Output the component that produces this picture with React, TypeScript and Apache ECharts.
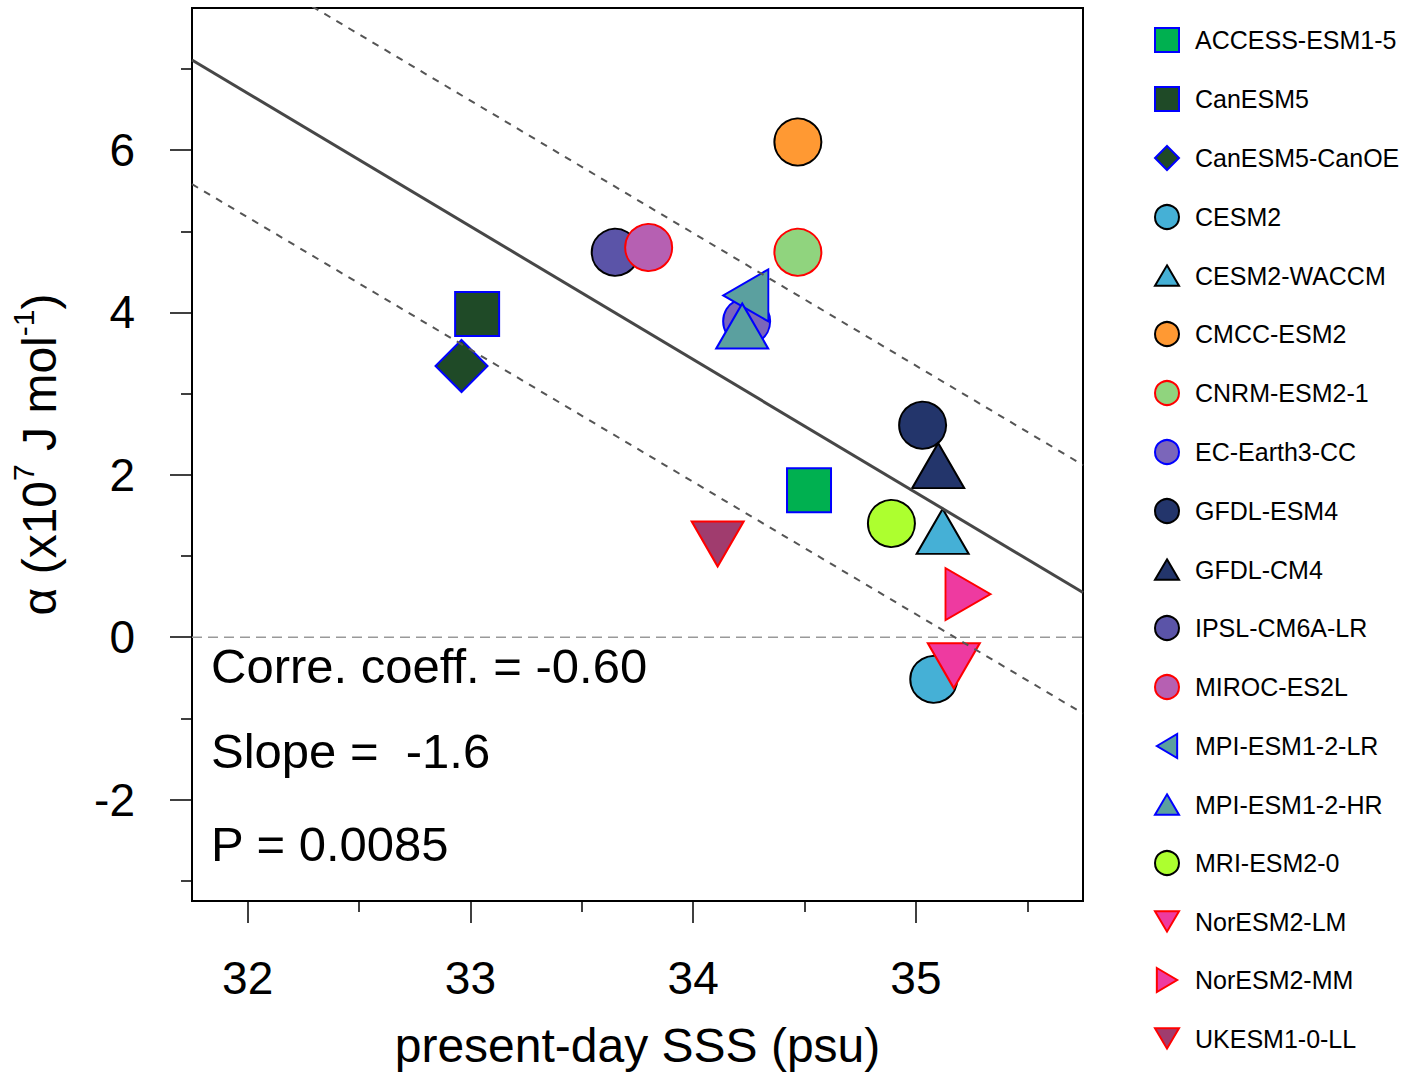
import React, { useEffect, useRef } from 'react';
import * as echarts from 'echarts';

const models = [
  'ACCESS-ESM1-5', 'CanESM5', 'CanESM5-CanOE', 'CESM2', 'CESM2-WACCM', 'CMCC-ESM2',
  'CNRM-ESM2-1', 'EC-Earth3-CC', 'GFDL-ESM4', 'GFDL-CM4', 'IPSL-CM6A-LR', 'MIROC-ES2L',
  'MPI-ESM1-2-LR', 'MPI-ESM1-2-HR', 'MRI-ESM2-0', 'NorESM2-LM', 'NorESM2-MM', 'UKESM1-0-LL',
];
const sss = [34.52, 33.03, 32.96, 35.08, 35.12, 34.47, 34.47, 34.24, 35.03, 35.10, 33.65, 33.80, 34.27, 34.22, 34.89, 35.17, 35.20, 34.11];
const alpha = [1.81, 3.98, 3.34, -0.52, 1.21, 6.10, 4.74, 3.89, 2.61, 2.02, 4.74, 4.80, 4.21, 3.74, 1.40, -0.26, 0.53, 1.24];
const shapes = [
  'square', 'square', 'diamond', 'circle', 'up', 'circle',
  'circle', 'circle', 'circle', 'up', 'circle', 'circle',
  'left', 'up', 'circle', 'down', 'right', 'down',
];
const fills = [
  '#00B050', '#1F4A27', '#1F4A27', '#45B0D6', '#45B0D6', '#FF9933',
  '#90D47E', '#7B66BA', '#23356B', '#23356B', '#5B54A8', '#B660B2',
  '#5BA09F', '#5BA09F', '#ADFF2F', '#EE3AA0', '#EE3AA0', '#A03C6E',
];
const edges = [
  '#0000FF', '#0000FF', '#0000FF', '#000000', '#000000', '#000000',
  '#FF0000', '#0000FF', '#000000', '#000000', '#000000', '#FF0000',
  '#0000FF', '#0000FF', '#000000', '#FF0000', '#FF0000', '#FF0000',
];

const fitLine = [[31.75, 7.11], [35.75, 0.55]];
const upperBand = [[31.75, 8.65], [35.75, 2.12]];
const lowerBand = [[31.75, 5.58], [35.75, -0.94]];
const zeroLine = [[31.75, 0], [35.75, 0]];

const xRange = [31.75, 35.75];
const yRange = [-3.25, 7.75];
const xMajorTicks = [32, 33, 34, 35];
const xMinorTicks = [32.5, 33.5, 34.5, 35.5];
const yMajorTicks = [-2, 0, 2, 4, 6];
const yMinorTicks = [-3, -1, 1, 3, 5, 7];
const stats = ['Corre. coeff. = -0.60', 'Slope =  -1.6', 'P = 0.0085'];

const FONT = '"Liberation Sans", Arial, Helvetica, sans-serif';

const shapeStyle: Record<string, any> = {
  square: { symbol: 'rect', symbolSize: 44, symbolRotate: 0, symbolOffset: [0, 0] },
  diamond: { symbol: 'diamond', symbolSize: 52, symbolRotate: 0, symbolOffset: [0, 0] },
  circle: { symbol: 'circle', symbolSize: 47, symbolRotate: 0, symbolOffset: [0, 0] },
  up: { symbol: 'triangle', symbolSize: [52, 45], symbolRotate: 0, symbolOffset: [0, -7.5] },
  down: { symbol: 'triangle', symbolSize: [52, 45], symbolRotate: 180, symbolOffset: [0, 7.5] },
  left: { symbol: 'triangle', symbolSize: [52, 45], symbolRotate: 90, symbolOffset: [-7.5, 0] },
  right: { symbol: 'triangle', symbolSize: [52, 45], symbolRotate: -90, symbolOffset: [7.5, 0] },
};

const legendIcons: Record<string, string> = {
  square: 'path://M2,2 L22,2 L22,22 L2,22 Z',
  diamond: 'diamond',
  circle: 'circle',
  up: 'path://M12,1 L25,23 L-1,23 Z',
  down: 'path://M-1,1 L25,1 L12,23 Z',
  left: 'path://M1,12 L23,-1 L23,25 Z',
  right: 'path://M1,-1 L23,12 L1,25 Z',
};

export default function App() {
  const ref = useRef<HTMLDivElement>(null);
  useEffect(() => {
    if (!ref.current) return;
    const chart = echarts.init(ref.current, null, { renderer: 'svg' });

    const scatterSeries = models.map((name, i) => ({
      name,
      type: 'scatter',
      xAxisIndex: 0,
      yAxisIndex: 0,
      z: 2,
      ...shapeStyle[shapes[i]],
      itemStyle: { color: fills[i], borderColor: edges[i], borderWidth: 2, opacity: 1 },
      emphasis: { disabled: true },
      data: [[sss[i], alpha[i]]],
    }));

    const lineSeries = (name: string, data: number[][], color: string, width: number, type: any, z: number) => ({
      name,
      type: 'line',
      xAxisIndex: 0,
      yAxisIndex: 0,
      data,
      symbol: 'none',
      clip: true,
      z,
      silent: true,
      lineStyle: { color, width, type },
    });

    const tickAxisCommon = {
      type: 'value',
      splitLine: { show: false },
    };

    chart.setOption({
      animation: false,
      textStyle: { fontFamily: FONT },
      grid: {
        left: 190, right: 336, top: 8, bottom: 176,
        show: true, borderColor: '#000', borderWidth: 2, backgroundColor: 'transparent',
        containLabel: false,
      },
      xAxis: [
        {
          ...tickAxisCommon,
          min: xRange[0], max: xRange[1], position: 'bottom',
          axisLine: { show: true, onZero: false, lineStyle: { color: '#000', width: 2 } },
          axisTick: { show: true, customValues: xMajorTicks, length: 22, lineStyle: { color: '#000', width: 1.5 } },
          axisLabel: { show: true, customValues: xMajorTicks, margin: 54, fontSize: 46, color: '#000', fontFamily: FONT },
          name: 'present-day SSS (psu)',
          nameLocation: 'middle',
          nameGap: 120,
          nameTextStyle: { fontSize: 48, color: '#000', fontFamily: FONT },
        },
        {
          ...tickAxisCommon,
          min: xRange[0], max: xRange[1], position: 'bottom', offset: 0,
          axisLine: { show: false, onZero: false },
          axisTick: { show: true, customValues: xMinorTicks, length: 11, lineStyle: { color: '#000', width: 1.5 } },
          axisLabel: { show: false },
        },
      ],
      yAxis: [
        {
          ...tickAxisCommon,
          min: yRange[0], max: yRange[1], position: 'left',
          axisLine: { show: true, onZero: false, lineStyle: { color: '#000', width: 2 } },
          axisTick: { show: true, customValues: yMajorTicks, length: 22, lineStyle: { color: '#000', width: 1.5 } },
          axisLabel: { show: true, customValues: yMajorTicks, margin: 57, fontSize: 46, color: '#000', fontFamily: FONT },
          name: 'α (x10{s|7} J mol{s|-1})',
          nameLocation: 'middle',
          nameRotate: 90,
          nameGap: 122,
          nameTextStyle: {
            fontSize: 48, color: '#000', fontFamily: FONT, lineHeight: 62,
            rich: { s: { fontSize: 30, lineHeight: 30, verticalAlign: 'top', color: '#000', fontFamily: FONT } },
          },
        },
        {
          ...tickAxisCommon,
          min: yRange[0], max: yRange[1], position: 'left', offset: 0,
          axisLine: { show: false, onZero: false },
          axisTick: { show: true, customValues: yMinorTicks, length: 11, lineStyle: { color: '#000', width: 1.5 } },
          axisLabel: { show: false },
        },
      ],
      legend: {
        orient: 'vertical',
        left: 1149,
        top: 22,
        itemWidth: 24,
        itemHeight: 24,
        itemGap: 33,
        symbolRotate: 0,
        data: models.map((name, i) => ({ name, icon: legendIcons[shapes[i]] })),
        selectedMode: false,
        textStyle: { fontSize: 25, lineHeight: 24, color: '#000', fontFamily: FONT, padding: [0, 0, 0, 11] },
      },
      graphic: stats.map((t, i) => ({
        type: 'text',
        x: 211,
        y: [666, 751, 844][i],
        silent: true,
        style: { text: t, fontSize: 49, fontFamily: FONT, fill: '#000', verticalAlign: 'middle', align: 'left' },
      })),
      series: [
        ...scatterSeries,
        lineSeries('zero', zeroLine, '#999999', 1.5, [10, 6], 3),
        lineSeries('fit', fitLine, '#474747', 3, 'solid', 3),
        lineSeries('upper', upperBand, '#555555', 2, [7, 7], 3),
        lineSeries('lower', lowerBand, '#555555', 2, [7, 7], 3),
      ],
    });
    return () => chart.dispose();
  }, []);
  return <div ref={ref} style={{ width: 1419, height: 1077, position: 'absolute', left: 0, top: 0, background: '#fff' }} />;
}
